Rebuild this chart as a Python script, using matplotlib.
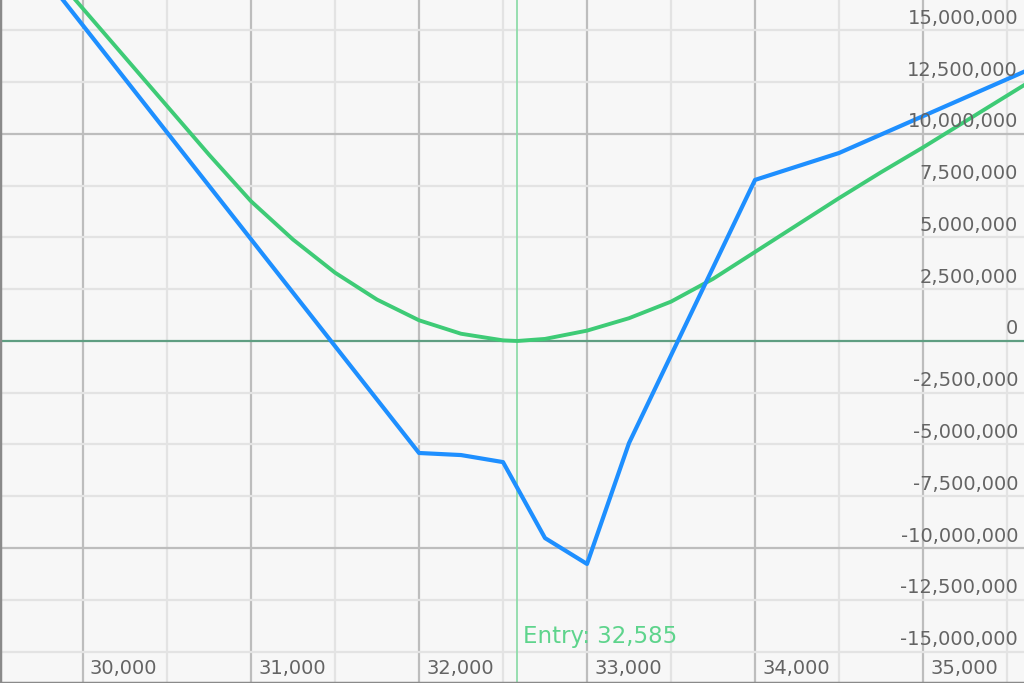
import matplotlib
matplotlib.use("Agg")
import matplotlib.pyplot as plt
from matplotlib.transforms import blended_transform_factory

# price points and P&L
blue_x = [29500, 32000, 32250, 32500, 32750, 33000, 33250, 34000, 34500, 35600]
blue_y = [20.4e6, -5.41e6, -5.51e6, -5.85e6, -9.52e6, -10.77e6, -4.93e6, 7.78e6, 9.08e6, 13.0e6]

green_x = [29500, 29750, 30000, 30250, 30500, 30750, 31000, 31250, 31500, 31750,
           32000, 32250, 32500, 32585, 32750, 33000, 33250, 33500, 33750, 34000,
           34250, 34500, 34750, 35000, 35250, 35600]
green_y = [20.8e6, 18.4e6, 16.05e6, 13.7e6, 11.35e6, 9.0e6, 6.75e6, 4.9e6, 3.3e6, 2.0e6,
           1.0e6, 0.35e6, 0.03e6, 0.0, 0.1e6, 0.5e6, 1.1e6, 1.9e6, 3.0e6, 4.3e6,
           5.6e6, 6.9e6, 8.15e6, 9.35e6, 10.6e6, 12.35e6]

entry = 32585
x_ticks = [30000, 31000, 32000, 33000, 34000, 35000]
y_ticks = [15e6, 12.5e6, 10e6, 7.5e6, 5e6, 2.5e6, 0, -2.5e6, -5e6, -7.5e6,
           -10e6, -12.5e6, -15e6]

fig = plt.figure(figsize=(10.24, 6.83), dpi=100)
ax = fig.add_axes([0, 0, 1, 1])
ax.set_facecolor("#f7f7f7")
ax.set_xlim(29506, 35601)
ax.set_ylim(-16.52e6, 16.47e6)

# grid
for x in range(29500, 36000, 500):
    col = "#bdbdbd" if x % 1000 == 0 else "#e3e3e3"
    ax.axvline(x, color=col, lw=1.6, zorder=1)
for y in y_ticks + [-17.5e6, 17.5e6]:
    if y == 0:
        continue
    col = "#bdbdbd" if y % 10e6 == 0 else "#e3e3e3"
    ax.axhline(y, color=col, lw=1.6, zorder=1)

ax.axhline(0, color="#5f9e82", lw=1.6, zorder=2)
ax.axvline(entry, color="#8fdcaa", lw=1.3, zorder=2)

ax.plot(green_x, green_y, color="#3ecb76", lw=2.8, zorder=3, solid_joinstyle="round")
ax.plot(blue_x, blue_y, color="#1e8fff", lw=3.0, zorder=4, solid_joinstyle="round")

# tick labels inside the plot
trans_y = blended_transform_factory(ax.transAxes, ax.transData)
for y in y_ticks:
    ax.annotate(f"{int(y):,}", xy=(1018 / 1024, y), xycoords=trans_y,
                xytext=(0, 12), textcoords="offset pixels",
                ha="right", va="center", fontsize=14, color="#646464", zorder=5)
trans_x = blended_transform_factory(ax.transData, ax.transAxes)
for x in x_ticks:
    ax.annotate(f"{x:,}", xy=(x, 15 / 683), xycoords=trans_x,
                xytext=(7, 0), textcoords="offset pixels",
                ha="left", va="center", fontsize=14, color="#646464", zorder=5)

ax.annotate(f"Entry: {entry:,}", xy=(entry, 47 / 683), xycoords=trans_x,
            xytext=(6, 0), textcoords="offset pixels",
            ha="left", va="center", fontsize=16.5, color="#5ed48c", zorder=5)

for side in ["top", "right"]:
    ax.spines[side].set_visible(False)
for side in ["left", "bottom"]:
    ax.spines[side].set_color("#8a8a8a")
    ax.spines[side].set_linewidth(2.5)
ax.set_xticks([])
ax.set_yticks([])

fig.savefig("out.png", dpi=100)
